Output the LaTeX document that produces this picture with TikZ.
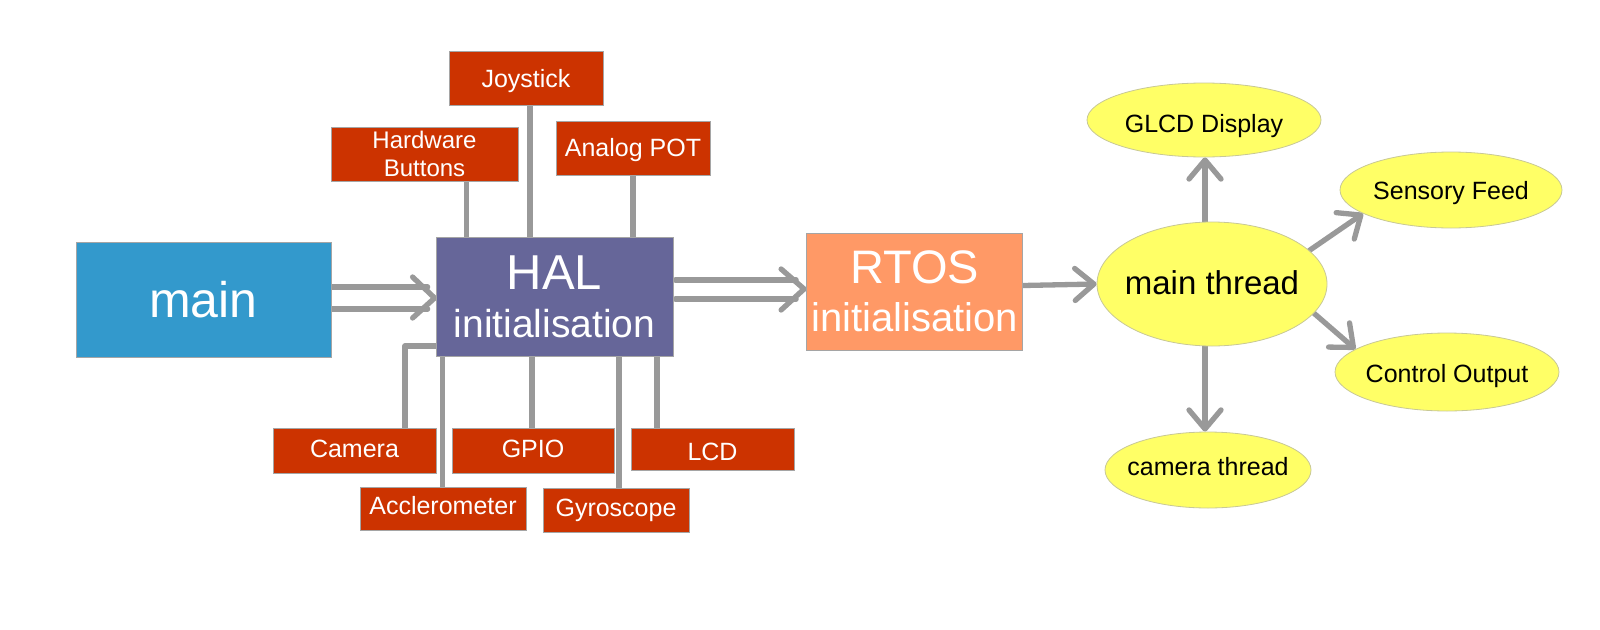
\documentclass[tikz,border=0pt]{standalone}
\usepackage{fontspec}
\setmainfont{Liberation Sans}
\usetikzlibrary{arrows.meta,shapes.geometric,calc,backgrounds}
\definecolor{mainblue}{RGB}{51,153,204}
\definecolor{halpurple}{RGB}{102,102,153}
\definecolor{rtosorange}{RGB}{255,153,102}
\definecolor{hwred}{RGB}{204,51,0}
\definecolor{ellyellow}{RGB}{255,255,102}
\definecolor{conngray}{RGB}{153,153,153}
\definecolor{edgegray}{RGB}{165,165,165}
\definecolor{elledge}{RGB}{200,200,150}
\begin{document}
\begin{tikzpicture}[x=1pt,y=-1pt,
  box/.style={rectangle, inner sep=0pt, draw=edgegray, line width=0.8pt, text=white, align=center},
  hw/.style={box, fill=hwred, font=\fontsize{25}{28}\selectfont},
  hwt/.style={hw, text height=18pt, text depth=5pt},
  ell/.style={ellipse, inner sep=0pt, fill=ellyellow, draw=elledge, line width=0.8pt,
    font=\fontsize{25}{28}\selectfont, text height=18pt, text depth=2pt},
  conn/.style={draw=conngray, line width=5.3pt, line cap=round, line join=round},
  arr/.style={conn, -{Straight Barb[length=19pt,width=32pt,line cap=round,line join=round]}}
]
\useasboundingbox (0,0) rectangle (1600,629);

% main blocks
\node[box, fill=mainblue, minimum width=255pt, minimum height=115pt,
  font=\fontsize{50}{60}\selectfont] (main) at (203.5,299.5) {main};
\node[box, fill=halpurple, minimum width=237pt, minimum height=119pt,
  font=\fontsize{39}{48}\selectfont] (hal) at (554.5,296.5)
  {{\fontsize{49}{48}\selectfont HAL}\\initialisation};
\node[box, fill=rtosorange, minimum width=216pt, minimum height=117pt,
  font=\fontsize{40}{48}\selectfont] (rtos) at (914.5,291.5)
  {{\fontsize{47}{48}\selectfont RTOS}\\initialisation};

% hardware boxes
\node[hwt, minimum width=154pt, minimum height=54pt] (joy) at (526,78) {\raisebox{-3pt}{Joystick}};
\node[hw, minimum width=187pt, minimum height=54pt, font=\fontsize{24}{28}\selectfont] (hb) at (424.5,154) {Hardware\\Buttons};
\node[hwt, minimum width=154pt, minimum height=54pt] (pot) at (633,148) {\raisebox{-2pt}{Analog POT}};
\node[hwt, minimum width=163pt, minimum height=45pt] (cam) at (354.5,450.5) {Camera};
\node[hwt, minimum width=162pt, minimum height=45pt] (gpio) at (533,450.5) {GPIO};
\node[hwt, minimum width=163pt, minimum height=42pt] (lcd) at (712.5,449) {\raisebox{-5pt}{LCD}};
\node[hwt, minimum width=166pt, minimum height=43pt] (acc) at (443,508.5) {\raisebox{1pt}{Acclerometer}};
\node[hwt, minimum width=146pt, minimum height=44pt] (gyro) at (616,510) {Gyroscope};

% thread ellipses
\node[ell, minimum width=230pt, minimum height=124pt, font=\fontsize{33}{36}\selectfont,
  text height=24pt, text depth=0pt] (mt) at (1212,284) {\makebox[0pt]{\raisebox{1.5pt}{main thread}}};
\node[ell, minimum width=234pt, minimum height=74pt] (glcd) at (1204,120) {\makebox[0pt]{\raisebox{-4pt}{GLCD Display}}};
\node[ell, minimum width=222pt, minimum height=76pt] (sf) at (1451,190) {\makebox[0pt]{\raisebox{-1pt}{Sensory Feed}}};
\node[ell, minimum width=224pt, minimum height=78pt] (co) at (1447,372) {\makebox[0pt]{\raisebox{-2pt}{Control Output}}};
\node[ell, minimum width=206pt, minimum height=76pt] (ct) at (1208,470) {\makebox[0pt]{\raisebox{3pt}{camera thread}}};

% x positions of connectors
\coordinate (hbx) at (466.5,0);
\coordinate (joyx) at (530,0);
\coordinate (camk) at (405,346);
\coordinate (accx) at (442.5,0);
\coordinate (gpiox) at (532,0);
\coordinate (gyrox) at (619,0);
\coordinate (lcdx) at (657,0);
\coordinate (vx) at (1205,0);

\begin{scope}[on background layer]
  % HAL connectors
  \draw[conn] (hb.south -| hbx) -- (hal.north -| hbx);
  \draw[conn] (joy.south -| joyx) -- (hal.north -| joyx);
  \draw[conn] (pot.south) -- (pot.south |- hal.north);
  \draw[conn] (hal.west |- camk) -| (cam.north -| camk);
  \draw[conn] (hal.south -| accx) -- (acc.north -| accx);
  \draw[conn] (hal.south -| gpiox) -- (gpio.north -| gpiox);
  \draw[conn] (hal.south -| gyrox) -- (gyro.north -| gyrox);
  \draw[conn] (hal.south -| lcdx) -- (lcd.north -| lcdx);

  % main => HAL
  \draw[conn] ($(main.east)+(0,-12.5)$) -- ($(hal.west)+(-8,-9.5)$);
  \draw[conn] ($(main.east)+(0,9.5)$) -- ($(hal.west)+(-8,12.5)$);
  \draw[conn] ($(hal.west)+(-23,-19.5)$) -- ($(hal.west)+(-1,1.5)$) -- ($(hal.west)+(-23,21.5)$);

  % HAL => RTOS
  \draw[conn] ($(hal.east)+(2,-16.5)$) -- ($(rtos.west)+(-10,-11.5)$);
  \draw[conn] ($(hal.east)+(2,2.5)$) -- ($(rtos.west)+(-10,7.5)$);
  \draw[conn] ($(rtos.west)+(-25,-22.5)$) -- ($(rtos.west)+(-2,-2.5)$) -- ($(rtos.west)+(-25,18.5)$);

  % RTOS -> main thread and thread arrows
  \draw[arr] ($(rtos.east)+(0,-6)$) -- (mt.west);
  \draw[arr] (mt.north -| vx) -- (glcd.south -| vx);
  \draw[arr] (mt.19) -- (sf.195);
  \draw[arr] (mt.-16) -- (co.166);
  \draw[arr] (mt.south -| vx) -- (ct.north -| vx);
\end{scope}
\end{tikzpicture}
\end{document}
